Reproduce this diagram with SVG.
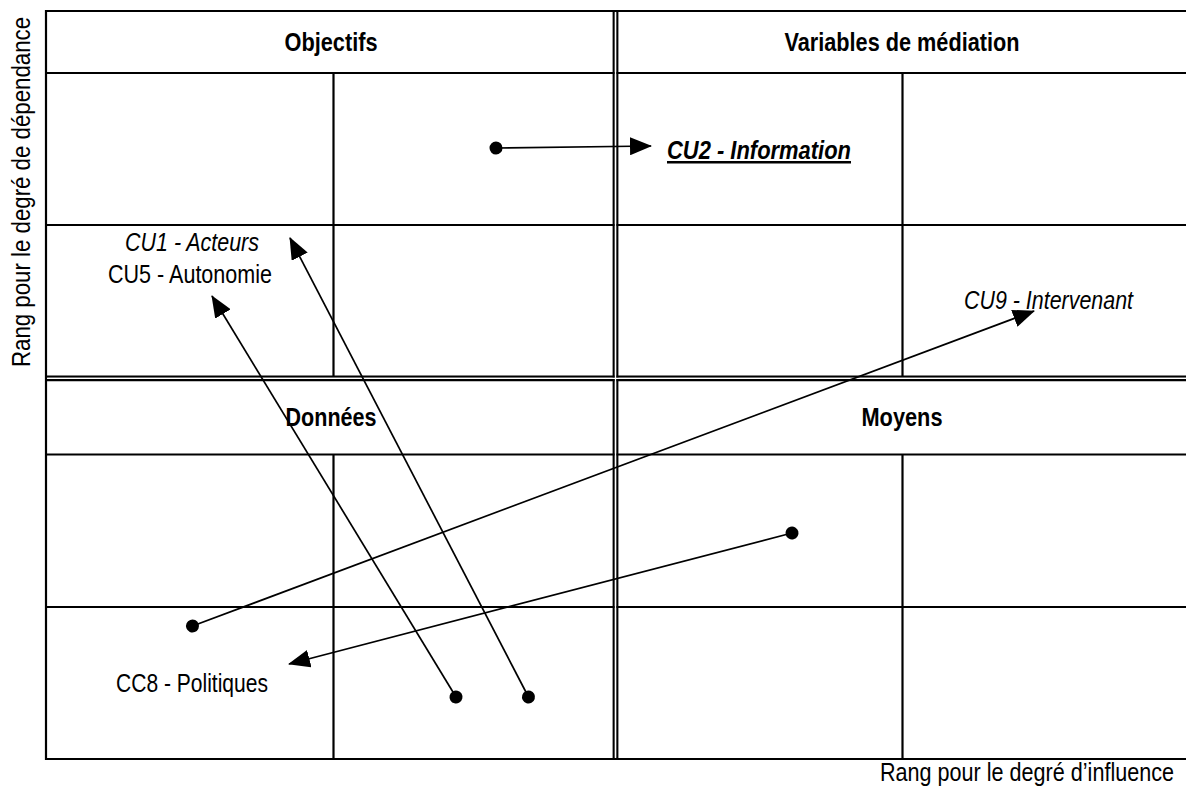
<svg xmlns="http://www.w3.org/2000/svg" width="1186" height="787" viewBox="0 0 1186 787">
<style>
.g{stroke:#000;stroke-width:2.2;fill:none}
.gap{stroke:#fff;stroke-width:1.3;fill:none}
.c{stroke:#000;stroke-width:1.7;fill:none;marker-start:url(#dot);marker-end:url(#arr)}
text{font-family:"Liberation Sans Narrow","Liberation Sans",Arial,sans-serif;font-size:25px;fill:#000}
.h{font-weight:bold;text-anchor:middle}
.it{font-style:italic}
</style>
<defs>
<marker id="arr" viewBox="0 0 22 18" refX="21" refY="9" markerWidth="22" markerHeight="18" markerUnits="userSpaceOnUse" orient="auto"><path d="M0,0 L22,9 L0,18 Z" fill="#000"/></marker>
<marker id="dot" viewBox="0 0 14 14" refX="7" refY="7" markerWidth="14" markerHeight="14" markerUnits="userSpaceOnUse" orient="auto"><circle cx="7" cy="7" r="6.5" fill="#000"/></marker>
</defs>
<rect width="1186" height="787" fill="#fff"/>
<g id="grid">
<line class="g" x1="46" y1="11" x2="1186" y2="11"/>
<line class="g" x1="46" y1="73" x2="1186" y2="73"/>
<line class="g" x1="46" y1="225" x2="1186" y2="225"/>
<line class="g" x1="46" y1="376.7" x2="1186" y2="376.7"/>
<line class="g" x1="46" y1="380.2" x2="1186" y2="380.2"/>
<line class="g" x1="46" y1="454.5" x2="1186" y2="454.5"/>
<line class="g" x1="46" y1="607" x2="1186" y2="607"/>
<line class="g" x1="46" y1="759" x2="1186" y2="759"/>
<line class="g" x1="46" y1="10" x2="46" y2="760"/>
<line class="g" x1="613.7" y1="10" x2="613.7" y2="760"/>
<line class="g" x1="617.3" y1="10" x2="617.3" y2="760"/>
<line class="g" x1="333.5" y1="73" x2="333.5" y2="376.7"/>
<line class="g" x1="902.5" y1="73" x2="902.5" y2="376.7"/>
<line class="g" x1="333.5" y1="454.5" x2="333.5" y2="759"/>
<line class="g" x1="902.5" y1="454.5" x2="902.5" y2="759"/>
<line class="gap" x1="615.5" y1="12.2" x2="615.5" y2="757.8"/>
<line class="gap" x1="47.2" y1="378.45" x2="1186" y2="378.45"/>
</g>
<g id="headers">
<text class="h" x="331" y="51" textLength="93" lengthAdjust="spacingAndGlyphs">Objectifs</text>
<text class="h" x="902" y="51" textLength="235" lengthAdjust="spacingAndGlyphs">Variables de médiation</text>
<text class="h" x="331" y="426" textLength="91" lengthAdjust="spacingAndGlyphs">Données</text>
<text class="h" x="902" y="426" textLength="81" lengthAdjust="spacingAndGlyphs">Moyens</text>
</g>
<g id="axes">
<text transform="translate(30,367) rotate(-90)" textLength="350" lengthAdjust="spacingAndGlyphs">Rang pour le degré de dépendance</text>
<text x="880" y="781" textLength="294" lengthAdjust="spacingAndGlyphs">Rang pour le degré d’influence</text>
</g>
<g id="node-cu2"><text x="667" y="159" font-weight="bold" font-style="italic" text-decoration="underline" textLength="184" lengthAdjust="spacingAndGlyphs">CU2 - Information</text></g>
<g id="node-cu1"><text class="it" x="125" y="251" textLength="134" lengthAdjust="spacingAndGlyphs">CU1 - Acteurs</text></g>
<g id="node-cu5"><text x="108" y="283" textLength="164" lengthAdjust="spacingAndGlyphs">CU5 - Autonomie</text></g>
<g id="node-cu9"><text class="it" x="964" y="309" textLength="169" lengthAdjust="spacingAndGlyphs">CU9 - Intervenant</text></g>
<g id="node-cc8"><text x="116" y="692" textLength="152" lengthAdjust="spacingAndGlyphs">CC8 - Politiques</text></g>
<g id="connectors">
<line class="c" x1="496" y1="148" x2="651" y2="146"/>
<line class="c" x1="528.5" y1="697" x2="290" y2="238"/>
<line class="c" x1="456" y1="697" x2="212" y2="296"/>
<line class="c" x1="192.5" y1="626" x2="1034" y2="311"/>
<line class="c" x1="792" y1="533" x2="289" y2="664"/>
</g>
</svg>
